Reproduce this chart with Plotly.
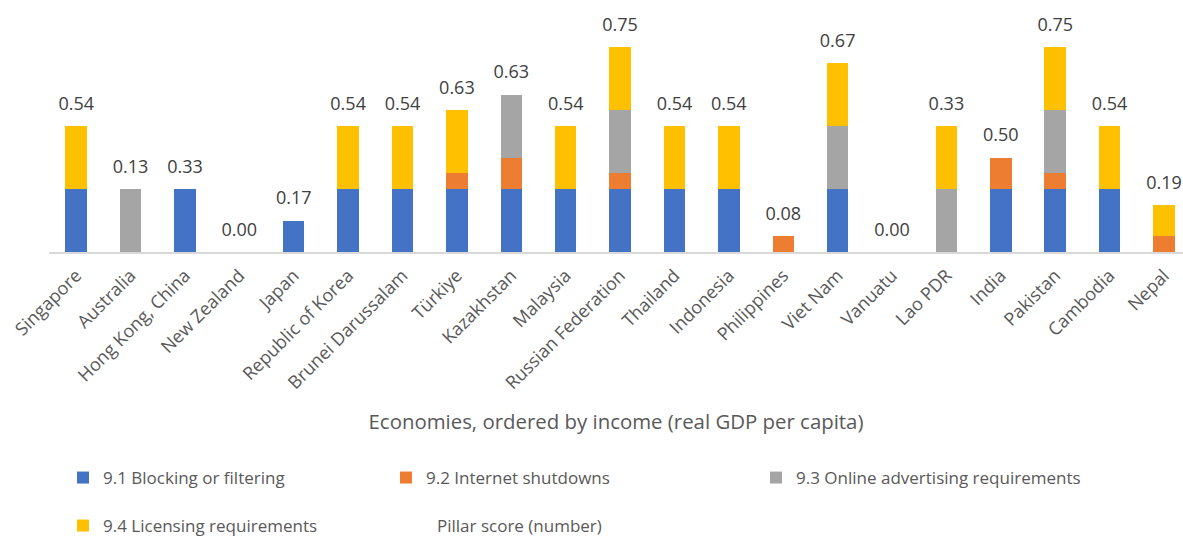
import plotly.graph_objects as go

# Economies ordered by income (real GDP per capita)
economies = [
    "Singapore", "Australia", "Hong Kong, China", "New Zealand", "Japan",
    "Republic of Korea", "Brunei Darussalam", "Türkiye", "Kazakhstan",
    "Malaysia", "Russian Federation", "Thailand", "Indonesia", "Philippines",
    "Viet Nam", "Vanuatu", "Lao PDR", "India", "Pakistan", "Cambodia", "Nepal",
]

# Sub-indicator scores (stacked)
blocking_filtering = [1, 0, 1, 0, 0.5, 1, 1, 1, 1, 1, 1, 1, 1, 0, 1, 0, 0, 1, 1, 1, 0]
internet_shutdowns = [0, 0, 0, 0, 0, 0, 0, 0.25, 0.5, 0, 0.25, 0, 0, 0.25, 0, 0, 0, 0.5, 0.25, 0, 0.25]
online_advertising = [0, 1, 0, 0, 0, 0, 0, 0, 1, 0, 1, 0, 0, 0, 1, 0, 1, 0, 1, 0, 0]
licensing_reqs = [1, 0, 0, 0, 0, 1, 1, 1, 0, 1, 1, 1, 1, 0, 1, 0, 1, 0, 1, 1, 0.5]

# Pillar score shown above each stack
pillar_score = [0.54, 0.13, 0.33, 0.00, 0.17, 0.54, 0.54, 0.63, 0.63, 0.54, 0.75,
                0.54, 0.54, 0.08, 0.67, 0.00, 0.33, 0.50, 0.75, 0.54, 0.19]

series = [
    ("9.1 Blocking or filtering", blocking_filtering, "#4472C4", "legend"),
    ("9.2 Internet shutdowns", internet_shutdowns, "#ED7D31", "legend2"),
    ("9.3 Online advertising requirements", online_advertising, "#A5A5A5", "legend3"),
    ("9.4 Licensing requirements", licensing_reqs, "#FFC000", "legend4"),
]

FONT = "Open Sans"
TEXT_GREY = "#595959"

fig = go.Figure()
for name, vals, color, leg in series:
    fig.add_trace(go.Bar(
        x=economies, y=vals, name=name, legend=leg,
        marker=dict(color=color, line=dict(width=0)),
        hoverinfo="skip",
    ))

stack_top = [a + b + c + d for a, b, c, d in zip(blocking_filtering, internet_shutdowns,
                                                 online_advertising, licensing_reqs)]
# score labels sit above each stack; the transparent marker sets the gap
fig.add_trace(go.Scatter(
    x=economies, y=stack_top, mode="markers+text",
    marker=dict(size=17, color="rgba(0,0,0,0)"),
    text=[f"{v:.2f}" for v in pillar_score],
    textposition="top center",
    textfont=dict(family=FONT, size=18, color="#404040"),
    showlegend=False, cliponaxis=False, hoverinfo="skip",
))
# legend entry for the pillar score (no visible symbol)
fig.add_trace(go.Scatter(
    x=[economies[0]], y=[None], mode="lines", name="Pillar score (number)",
    line=dict(color="rgba(0,0,0,0)"), legend="legend5",
))

def leg(x, y):
    return dict(
        x=x, y=y, xref="container", yref="container",
        xanchor="left", yanchor="middle",
        font=dict(family=FONT, size=17, color=TEXT_GREY),
        bgcolor="rgba(0,0,0,0)", borderwidth=0,
    )

row1 = (537 - 478) / 537
row2 = (537 - 526) / 537

fig.update_layout(
    width=1183, height=537,
    barmode="stack", bargap=0.605,
    plot_bgcolor="white", paper_bgcolor="white",
    margin=dict(l=49, r=0, t=0, b=285, autoexpand=False),
    font=dict(family=FONT, size=17, color=TEXT_GREY),
    xaxis=dict(
        type="category",
        range=[-0.5, 20.35],
        tickangle=-45,
        tickfont=dict(family=FONT, size=18, color=TEXT_GREY),
        ticklabelstandoff=4,
        showline=True, linecolor="#D9D9D9", linewidth=2,
        ticks="", showgrid=False, automargin=False,
        title=dict(text="Economies, ordered by income (real GDP per capita)",
                   font=dict(family=FONT, size=20.4, color=TEXT_GREY), standoff=22),
    ),
    yaxis=dict(range=[0, 4], visible=False, showgrid=False, zeroline=False),
    legend=leg(63 / 1183, row1),
    legend2=leg(386 / 1183, row1),
    legend3=leg(756 / 1183, row1),
    legend4=leg(63 / 1183, row2),
    legend5=leg(397 / 1183, row2),
    showlegend=True,
)

fig.write_html("out.html")
